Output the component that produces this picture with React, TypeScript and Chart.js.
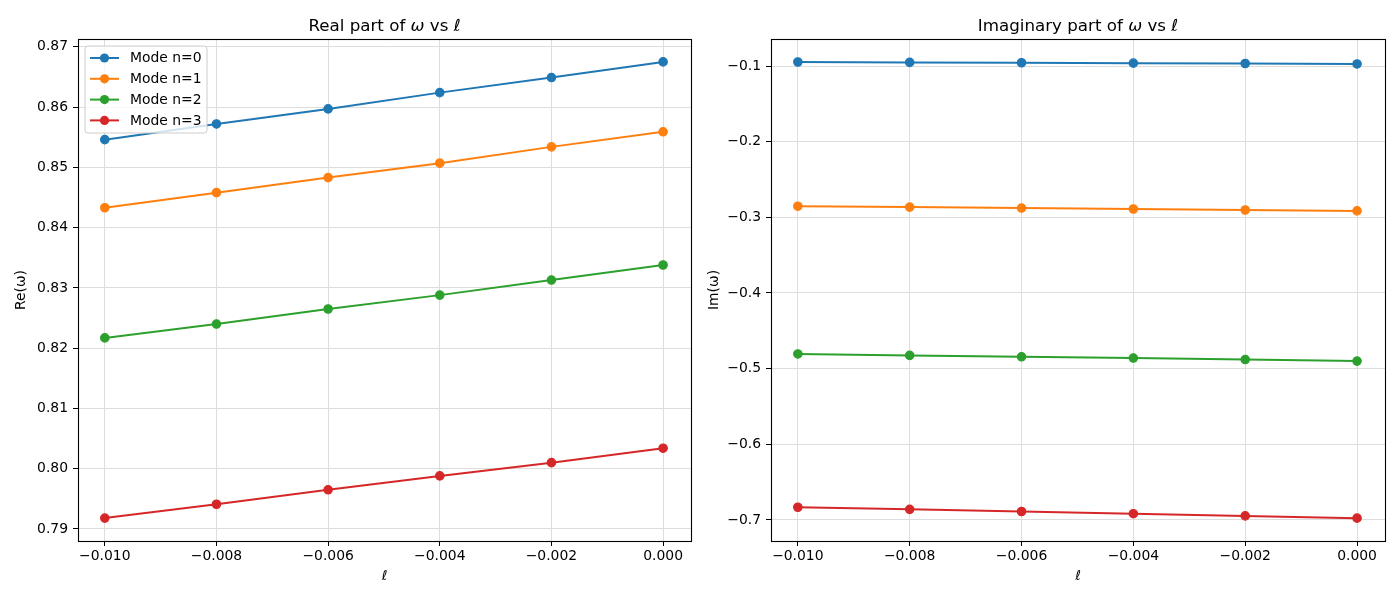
import React, { useEffect, useRef } from 'react';
import { Chart, registerables } from 'chart.js';

Chart.register(...registerables);

const ellValues = [-0.01, -0.008, -0.006, -0.004, -0.002, 0.0];
const modeLabels = ['Mode n=0', 'Mode n=1', 'Mode n=2', 'Mode n=3'];
const modeColors = ['#1f77b4', '#ff7f0e', '#2ca02c', '#d62728'];

const reMode0 = [0.8546, 0.8572, 0.8597, 0.8624, 0.8649, 0.8675];
const reMode1 = [0.8433, 0.8458, 0.8483, 0.8507, 0.8534, 0.8559];
const reMode2 = [0.8217, 0.824, 0.8265, 0.8288, 0.8313, 0.8338];
const reMode3 = [0.7918, 0.7941, 0.7965, 0.7988, 0.801, 0.8034];

const imMode0 = [-0.0947, -0.0952, -0.0957, -0.0962, -0.0967, -0.0973];
const imMode1 = [-0.2853, -0.2865, -0.2877, -0.289, -0.2903, -0.2915];
const imMode2 = [-0.4806, -0.4825, -0.4843, -0.486, -0.488, -0.49];
const imMode3 = [-0.6832, -0.686, -0.6888, -0.6917, -0.6946, -0.6976];

const FONT = "'DejaVu Sans', sans-serif";
const TICK_SIZE = 13.9;

function fmt(v: number, d: number): string {
  const s = Math.abs(v) < 1e-12 ? (0).toFixed(d) : v.toFixed(d);
  return s.replace('-', '\u2212');
}

type Seg = { t: string; i: boolean };

function titlePlugin(segs: Seg[]) {
  return {
    id: 'mplTitle',
    afterDraw(chart: any) {
      const ctx = chart.ctx;
      const ca = chart.chartArea;
      ctx.save();
      ctx.fillStyle = '#000';
      ctx.textBaseline = 'alphabetic';
      const fontN = `16.7px ${FONT}`;
      const fontI = `oblique 16.7px ${FONT}`;
      let total = 0;
      const widths: number[] = [];
      for (const s of segs) {
        ctx.font = s.i ? fontI : fontN;
        const w = ctx.measureText(s.t).width;
        widths.push(w);
        total += w;
      }
      let x = (ca.left + ca.right) / 2 - total / 2;
      const y = ca.top - 8.5;
      segs.forEach((s, k) => {
        ctx.font = s.i ? fontI : fontN;
        ctx.textAlign = 'left';
        ctx.fillText(s.t, x, y);
        x += widths[k];
      });
      ctx.restore();
    },
  };
}

const framePlugin = {
  id: 'mplFrame',
  afterDatasetsDraw(chart: any) {
    const ctx = chart.ctx;
    const ca = chart.chartArea;
    ctx.save();
    ctx.strokeStyle = '#000';
    ctx.lineWidth = 1.1;
    ctx.strokeRect(Math.round(ca.left) + 0.5, Math.round(ca.top) + 0.5, Math.round(ca.right - ca.left), Math.round(ca.bottom - ca.top));
    ctx.restore();
  },
};

const legendPlugin = {
  id: 'mplLegend',
  afterDraw(chart: any) {
    const ctx = chart.ctx;
    const ca = chart.chartArea;
    const x0 = ca.left + 7;
    const y0 = ca.top + 7;
    const w = 122;
    const h = 87;
    ctx.save();
    ctx.beginPath();
    const r = 3;
    ctx.moveTo(x0 + r, y0);
    ctx.lineTo(x0 + w - r, y0);
    ctx.quadraticCurveTo(x0 + w, y0, x0 + w, y0 + r);
    ctx.lineTo(x0 + w, y0 + h - r);
    ctx.quadraticCurveTo(x0 + w, y0 + h, x0 + w - r, y0 + h);
    ctx.lineTo(x0 + r, y0 + h);
    ctx.quadraticCurveTo(x0, y0 + h, x0, y0 + h - r);
    ctx.lineTo(x0, y0 + r);
    ctx.quadraticCurveTo(x0, y0, x0 + r, y0);
    ctx.closePath();
    ctx.fillStyle = 'rgba(255,255,255,0.8)';
    ctx.fill();
    ctx.strokeStyle = '#cccccc';
    ctx.lineWidth = 1;
    ctx.stroke();
    ctx.font = `${TICK_SIZE}px ${FONT}`;
    ctx.textBaseline = 'middle';
    ctx.textAlign = 'left';
    chart.data.datasets.forEach((ds: any, k: number) => {
      const yy = y0 + 12 + k * 20.8;
      ctx.strokeStyle = ds.borderColor;
      ctx.lineWidth = 2;
      ctx.beginPath();
      ctx.moveTo(x0 + 5, yy);
      ctx.lineTo(x0 + 34, yy);
      ctx.stroke();
      ctx.fillStyle = ds.borderColor;
      ctx.beginPath();
      ctx.arc(x0 + 19.5, yy, 4.6, 0, Math.PI * 2);
      ctx.fill();
      ctx.fillStyle = '#000';
      ctx.fillText(ds.label, x0 + 45, yy + 0.5);
    });
    ctx.restore();
  },
};

function makeDatasets(series: number[][]) {
  return series.map((vals, k) => ({
    label: modeLabels[k],
    data: ellValues.map((x, i) => ({ x, y: vals[i] })),
    borderColor: modeColors[k],
    backgroundColor: modeColors[k],
    pointBackgroundColor: modeColors[k],
    pointBorderColor: modeColors[k],
    borderWidth: 2,
    pointRadius: 4.2,
    pointBorderWidth: 1.2,
    tension: 0,
  }));
}

function makeConfig(p: {
  series: number[][];
  yMin: number;
  yMax: number;
  yStep: number;
  yDec: number;
  yWidth: number;
  yTitle: string;
  yTitlePad: number;
  padRight: number;
  title: Seg[];
  legend: boolean;
}): any {
  const gridColor = '#dddddd';
  const plugins: any[] = [titlePlugin(p.title), framePlugin];
  if (p.legend) plugins.push(legendPlugin);
  return {
    type: 'line',
    data: { datasets: makeDatasets(p.series) },
    plugins,
    options: {
      responsive: false,
      animation: false,
      events: [],
      layout: { padding: { left: 0, right: p.padRight, top: 39, bottom: 0 } },
      plugins: {
        legend: { display: false },
        title: { display: false },
        tooltip: { enabled: false },
      },
      scales: {
        x: {
          type: 'linear',
          min: -0.01048,
          max: 0.0005,
          afterFit: (s: any) => {
            s.height = 59;
          },
          ticks: {
            stepSize: 0.002,
            includeBounds: false,
            autoSkip: false,
            maxRotation: 0,
            padding: 2,
            color: '#000',
            font: { family: FONT, size: TICK_SIZE },
            callback: (v: any) => fmt(Number(v), 3),
          },
          grid: { color: gridColor, lineWidth: 1, tickColor: '#000', tickLength: 5, tickWidth: 1 },
          border: { display: false },
          title: {
            display: true,
            text: 'ℓ',
            color: '#000',
            font: { family: FONT, size: TICK_SIZE, style: 'italic' },
            padding: { top: 0, bottom: 15 },
          },
        },
        y: {
          type: 'linear',
          min: p.yMin,
          max: p.yMax,
          afterFit: (s: any) => {
            s.width = p.yWidth;
          },
          ticks: {
            stepSize: p.yStep,
            includeBounds: false,
            autoSkip: false,
            padding: 5,
            color: '#000',
            font: { family: FONT, size: TICK_SIZE },
            callback: (v: any) => fmt(Number(v), p.yDec),
          },
          grid: { color: gridColor, lineWidth: 1, tickColor: '#000', tickLength: 5, tickWidth: 1 },
          border: { display: false },
          title: {
            display: true,
            text: p.yTitle,
            color: '#000',
            font: { family: FONT, size: TICK_SIZE },
            padding: { top: p.yTitlePad, bottom: 0 },
          },
        },
      },
    },
  };
}

function ChartCanvas({ config, left }: { config: () => any; left: number }) {
  const ref = useRef<HTMLCanvasElement | null>(null);
  useEffect(() => {
    if (!ref.current) return;
    const chart = new Chart(ref.current, config());
    return () => chart.destroy();
  }, []);
  return (
    <div style={{ position: 'absolute', left, top: 0, width: 700, height: 600 }}>
      <canvas ref={ref} width={700} height={600} style={{ width: 700, height: 600, display: 'block' }} />
    </div>
  );
}

export default function App() {
  return (
    <div style={{ position: 'fixed', left: 0, top: 0, width: 1400, height: 600, background: '#fff', overflow: 'hidden' }}>
      <ChartCanvas
        left={0}
        config={() =>
          makeConfig({
            series: [reMode0, reMode1, reMode2, reMode3],
            yMin: 0.788,
            yMax: 0.8713,
            yStep: 0.01,
            yDec: 2,
            yWidth: 78,
            yTitle: 'Re(ω)',
            yTitlePad: 13,
            padRight: 9,
            title: [
              { t: 'Real part of ', i: false },
              { t: 'ω', i: true },
              { t: ' vs ', i: false },
              { t: 'ℓ', i: true },
            ],
            legend: true,
          })
        }
      />
      <ChartCanvas
        left={700}
        config={() =>
          makeConfig({
            series: [imMode0, imMode1, imMode2, imMode3],
            yMin: -0.7278,
            yMax: -0.0643,
            yStep: 0.1,
            yDec: 1,
            yWidth: 71,
            yTitle: 'Im(ω)',
            yTitlePad: 6,
            padRight: 15,
            title: [
              { t: 'Imaginary part of ', i: false },
              { t: 'ω', i: true },
              { t: ' vs ', i: false },
              { t: 'ℓ', i: true },
            ],
            legend: false,
          })
        }
      />
    </div>
  );
}
